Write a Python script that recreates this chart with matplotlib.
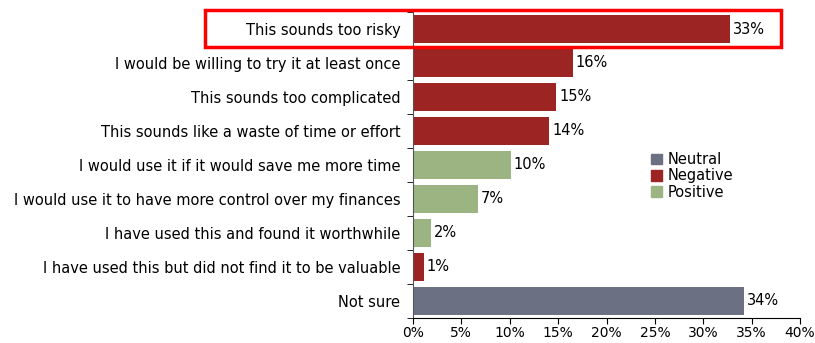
import numpy as np
import matplotlib
matplotlib.use('Agg')
import matplotlib.pyplot as plt
from matplotlib.patches import Rectangle, Patch
from matplotlib.ticker import FixedLocator, PercentFormatter

plt.rcParams['font.family'] = ['DejaVu Sans']

labels = ['This sounds too risky',
          'I would be willing to try it at least once',
          'This sounds too complicated',
          'This sounds like a waste of time or effort',
          'I would use it if it would save me more time',
          'I would use it to have more control over my finances',
          'I have used this and found it worthwhile',
          'I have used this but did not find it to be valuable',
          'Not sure']
values = [32.8, 16.5, 14.8, 14.1, 10.1, 6.7, 1.9, 1.1, 34.2]
value_labels = ['33%', '16%', '15%', '14%', '10%', '7%', '2%', '1%', '34%']
kinds = ['Negative', 'Negative', 'Negative', 'Negative', 'Positive',
         'Positive', 'Positive', 'Negative', 'Neutral']

colors = {'Neutral': '#6b7083', 'Negative': '#9c2422', 'Positive': '#9bb482'}
fs = 10.5

fig = plt.figure(figsize=(8.15, 3.43), dpi=100)
ax = fig.add_axes([0.5067, 0.073, 0.475, 0.892])

y = np.arange(len(labels))
ax.barh(y, values, height=0.8, color=[colors[k] for k in kinds])
for yi, v, t in zip(y, values, value_labels):
    ax.text(v + 0.3, yi, t, va='center', ha='left', fontsize=fs)

ax.set_ylim(len(labels) - 0.5, -0.5)
ax.set_xlim(0, 40)
ax.set_yticks(y)
ax.set_yticklabels(labels, fontsize=fs)
ax.tick_params(axis='y', which='major', length=0, pad=9)
ax.yaxis.set_minor_locator(FixedLocator(np.arange(-0.5, len(labels), 1.0)))
ax.tick_params(axis='y', which='minor', length=4, direction='out')
ax.set_xticks(np.arange(0, 41, 5))
ax.xaxis.set_major_formatter(PercentFormatter(decimals=0))
ax.tick_params(axis='x', labelsize=10, length=4, pad=2)
for s in ['top', 'right']:
    ax.spines[s].set_visible(False)
ax.spines['left'].set_color('#555555')

handles = [Patch(color=colors[k], label=k) for k in ['Neutral', 'Negative', 'Positive']]
fig.legend(handles=handles, loc='upper left', bbox_to_anchor=(0.792, 0.574),
           frameon=False, fontsize=fs, handlelength=0.75, handleheight=0.75,
           handletextpad=0.35, labelspacing=0.1, borderaxespad=0)

fig.patches.append(Rectangle((205 / 815, 1 - 47 / 343), 576 / 815, 37 / 343,
                             transform=fig.transFigure, fill=False,
                             edgecolor='#ff0000', linewidth=2.5))

fig.savefig('out.png', dpi=100)
